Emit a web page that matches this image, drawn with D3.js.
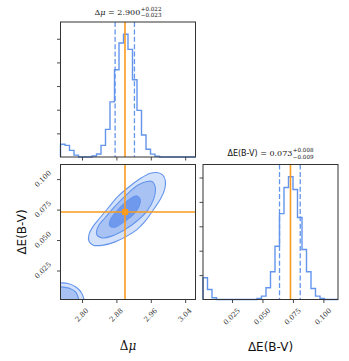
<!doctype html>
<html>
<head>
<meta charset="utf-8">
<script src="https://d3js.org/d3.v7.min.js"></script>
<style>
  body { margin: 0; background: #fff; }
  text { fill: #111; }
</style>
</head>
<body>
<svg width="349" height="361"></svg>
<script>
// ---- data ----
var muRange = [2.75, 3.064];
var ebvRange = [0.0012, 0.112];
var muTicks = [2.80, 2.88, 2.96, 3.04];
var ebvTicks = [0.025, 0.050, 0.075, 0.100];
var histTicks = [100, 200, 300, 400, 500];

var muCounts = [54, 49, 28, 8, 0, 0, 0, 4, 13, 49, 117, 233, 369, 482, 519,
                455, 327, 197, 93, 33, 12, 3, 0, 0, 0, 0, 0, 0, 0, 0];
var ebvCounts = [89, 41, 7, 0, 0, 0, 0, 0, 0, 0, 0, 0, 4, 14, 48,
                 114, 218, 352, 459, 503, 451, 336, 205, 114, 45, 14, 4, 0, 0, 0];

var muStats = [2.900, 0.022, 0.023];   // median, +err, -err
var ebvStats = [0.073, 0.008, 0.009];
var truths = [2.900, 0.073];

// contour outlines [mu, E(B-V)]
var contourOuter = [[2.9745,0.1054],[2.9875,0.1035],[2.9939,0.0986],[2.9922,0.0916],[2.9822,0.0834],
  [2.9665,0.0751],[2.9471,0.0656],[2.9277,0.0586],[2.9043,0.0532],[2.8770,0.0485],[2.8496,0.0458],
  [2.8262,0.0458],[2.8162,0.0490],[2.8162,0.0545],[2.8262,0.0614],[2.8419,0.0683],[2.8613,0.0765],
  [2.8847,0.0862],[2.9120,0.0944],[2.9394,0.1013],[2.9588,0.1048]];
var contourMid = [[2.9628,0.0980],[2.9705,0.0930],[2.9665,0.0834],[2.9511,0.0738],[2.9277,0.0656],
  [2.9003,0.0586],[2.8692,0.0532],[2.8459,0.0518],[2.8342,0.0545],[2.8379,0.0614],[2.8536,0.0683],
  [2.8770,0.0779],[2.9043,0.0875],[2.9314,0.0953],[2.9511,0.0980]];
var contourInner = [[2.9277,0.0862],[2.9354,0.0834],[2.9331,0.0779],[2.9197,0.0710],[2.9003,0.0656],
  [2.8770,0.0606],[2.8653,0.0614],[2.8653,0.0660],[2.8809,0.0738],[2.9003,0.0807],[2.9160,0.0848]];
var blobOuter = [[2.73,0.0150],[2.7484,0.0149],[2.7678,0.0144],[2.7874,0.0111],[2.7991,0.0066],
  [2.8052,0.0006],[2.8060,-0.006],[2.73,-0.006]];
var blobInner = [[2.73,0.0117],[2.7484,0.0116],[2.7717,0.0103],[2.7851,0.0075],[2.7928,0.0006],
  [2.7935,-0.006],[2.73,-0.006]];

var blue = "#6495ed", orange = "#f99b1f";
var fills = ["#d4e1fa", "#a9c2f4", "#6f99ec"];

var svg = d3.select("svg");
var L = 60.5, W = 135, T1 = 22, T2 = 164.5, L2 = 203;
var serif = "DejaVu Serif", sans = "DejaVu Sans";

var xMu = d3.scaleLinear().domain(muRange).range([L, L + W]);
var yE = d3.scaleLinear().domain(ebvRange).range([T2 + W, T2]);
var xE = d3.scaleLinear().domain(ebvRange).range([L2, L2 + W]);
var yH1 = d3.scaleLinear().domain([0, 1.1 * d3.max(muCounts)]).range([T1 + W, T1]);
var yH2 = d3.scaleLinear().domain([0, 1.1 * d3.max(ebvCounts)]).range([T2 + W, T2]);

function ticksOnly(axis, tr) {
  var g = svg.append("g").attr("transform", tr)
    .call(axis.tickSize(3.5).tickSizeOuter(0).tickFormat(""));
  g.select(".domain").remove();
  g.selectAll("line").attr("stroke", "#333").attr("stroke-width", 0.9);
}

function stepPoints(counts, range) {
  var n = counts.length, w = (range[1] - range[0]) / n, pts = [[range[0], 0]];
  counts.forEach(function(c, i) {
    pts.push([range[0] + i * w, c]);
    pts.push([range[0] + (i + 1) * w, c]);
  });
  pts.push([range[1], 0]);
  return pts;
}

// ---- top histogram ----
svg.append("path")
  .attr("d", d3.line().x(function(d) { return xMu(d[0]); }).y(function(d) { return yH1(d[1]); })(stepPoints(muCounts, muRange)))
  .attr("fill", "none").attr("stroke", blue).attr("stroke-width", 1.4);
[muStats[0] - muStats[2], muStats[0] + muStats[1]].forEach(function(v) {
  svg.append("line").attr("x1", xMu(v)).attr("x2", xMu(v)).attr("y1", T1).attr("y2", T1 + W)
    .attr("stroke", blue).attr("stroke-width", 1.3).attr("stroke-dasharray", "5,2.4");
});
svg.append("line").attr("x1", xMu(truths[0])).attr("x2", xMu(truths[0])).attr("y1", T1).attr("y2", T1 + W)
  .attr("stroke", orange).attr("stroke-width", 1.6);

// ---- right histogram ----
svg.append("path")
  .attr("d", d3.line().x(function(d) { return xE(d[0]); }).y(function(d) { return yH2(d[1]); })(stepPoints(ebvCounts, ebvRange)))
  .attr("fill", "none").attr("stroke", blue).attr("stroke-width", 1.4);
[ebvStats[0] - ebvStats[2], ebvStats[0] + ebvStats[1]].forEach(function(v) {
  svg.append("line").attr("x1", xE(v)).attr("x2", xE(v)).attr("y1", T2).attr("y2", T2 + W)
    .attr("stroke", blue).attr("stroke-width", 1.3).attr("stroke-dasharray", "5,2.4");
});
svg.append("line").attr("x1", xE(truths[1])).attr("x2", xE(truths[1])).attr("y1", T2).attr("y2", T2 + W)
  .attr("stroke", orange).attr("stroke-width", 1.6);

// ---- 2D panel ----
svg.append("clipPath").attr("id", "clip2d").append("rect")
  .attr("x", L).attr("y", T2).attr("width", W).attr("height", W);
var g2 = svg.append("g").attr("clip-path", "url(#clip2d)");
var contourLine = d3.line().x(function(d) { return xMu(d[0]); }).y(function(d) { return yE(d[1]); })
  .curve(d3.curveCatmullRomClosed.alpha(0.5));
[[contourOuter, fills[0]], [contourMid, fills[1]], [contourInner, fills[2]],
 [blobOuter, fills[0]], [blobInner, fills[1]]].forEach(function(c) {
  g2.append("path").attr("d", contourLine(c[0])).attr("fill", c[1])
    .attr("stroke", blue).attr("stroke-width", 1.1);
});
g2.append("line").attr("x1", xMu(truths[0])).attr("x2", xMu(truths[0])).attr("y1", T2).attr("y2", T2 + W)
  .attr("stroke", orange).attr("stroke-width", 1.6);
g2.append("line").attr("x1", L).attr("x2", L + W).attr("y1", yE(truths[1])).attr("y2", yE(truths[1]))
  .attr("stroke", orange).attr("stroke-width", 1.6);
g2.append("rect").attr("x", xMu(truths[0]) - 3).attr("y", yE(truths[1]) - 3)
  .attr("width", 6).attr("height", 6).attr("fill", orange);

// ---- ticks ----
ticksOnly(d3.axisBottom(xMu).tickValues(muTicks), "translate(0," + (T1 + W) + ")");
ticksOnly(d3.axisLeft(yH1).tickValues(histTicks), "translate(" + L + ",0)");
ticksOnly(d3.axisBottom(xMu).tickValues(muTicks), "translate(0," + (T2 + W) + ")");
ticksOnly(d3.axisLeft(yE).tickValues(ebvTicks), "translate(" + L + ",0)");
ticksOnly(d3.axisBottom(xE).tickValues(ebvTicks), "translate(0," + (T2 + W) + ")");
ticksOnly(d3.axisLeft(yH2).tickValues(histTicks), "translate(" + L2 + ",0)");

// frames
[[L, T1], [L, T2], [L2, T2]].forEach(function(p) {
  svg.append("rect").attr("x", p[0]).attr("y", p[1]).attr("width", W).attr("height", W)
    .attr("fill", "none").attr("stroke", "#333").attr("stroke-width", 1);
});

// rotated tick labels
function tickLabel(x, y, str, side) {
  var t = svg.append("text").attr("font-family", serif).attr("font-size", 7)
    .attr("text-anchor", "middle").attr("dominant-baseline", "central")
    .style("fill", "#333").text(str);
  var len = t.node().getComputedTextLength(), off = 8.5 + (len + 5) / 2.83;
  var cx = side === "bottom" ? x : x - off, cy = side === "bottom" ? y + off : y;
  t.attr("transform", "translate(" + cx + "," + cy + ") rotate(-45)");
}
muTicks.forEach(function(v) { tickLabel(xMu(v), T2 + W, d3.format(".2f")(v), "bottom"); });
ebvTicks.forEach(function(v) { tickLabel(xE(v), T2 + W, d3.format(".3f")(v), "bottom"); });
ebvTicks.forEach(function(v) { tickLabel(L, yE(v), d3.format(".3f")(v), "left"); });

// axis labels
var lab = svg.append("text").attr("x", L + W / 2).attr("y", 350).attr("text-anchor", "middle")
  .attr("font-family", serif).attr("font-size", 12);
lab.append("tspan").text("Δ");
lab.append("tspan").attr("font-style", "italic").text("μ");
svg.append("text").attr("x", L2 + W / 2).attr("y", 351).attr("text-anchor", "middle")
  .attr("font-family", sans).attr("font-size", 12).text("ΔE(B-V)");
svg.append("text").attr("transform", "translate(26," + (T2 + W / 2) + ") rotate(-90)")
  .attr("text-anchor", "middle").attr("font-family", sans).attr("font-size", 12).text("ΔE(B-V)");

// titles with stacked errors
function title(cx, y, parts, stats, fmt) {
  var g = svg.append("g");
  var t = g.append("text").attr("x", 0).attr("y", y).attr("font-size", 8);
  parts.forEach(function(p) {
    t.append("tspan").attr("font-family", p[1]).attr("font-style", p[2] || null).text(p[0]);
  });
  t.append("tspan").attr("font-family", serif).text(" = " + fmt(stats[0]));
  var len = t.node().getComputedTextLength();
  var sup = g.append("text").attr("x", len + 0.5).attr("y", y - 3.6).attr("font-family", serif)
    .attr("font-size", 5.6).text("+" + fmt(stats[1]));
  var sub = g.append("text").attr("x", len + 0.5).attr("y", y + 2.6).attr("font-family", serif)
    .attr("font-size", 5.6).text("−" + fmt(stats[2]));
  var total = len + 0.5 + Math.max(sup.node().getComputedTextLength(), sub.node().getComputedTextLength());
  g.attr("transform", "translate(" + (cx - total / 2) + ",0)");
}
title(L + W / 2, 14.5, [["Δ", serif], ["μ", serif, "italic"]], muStats, d3.format(".3f"));
title(L2 + W / 2, 156, [["ΔE(B-V)", sans]], ebvStats, d3.format(".3f"));
</script>
</body>
</html>
